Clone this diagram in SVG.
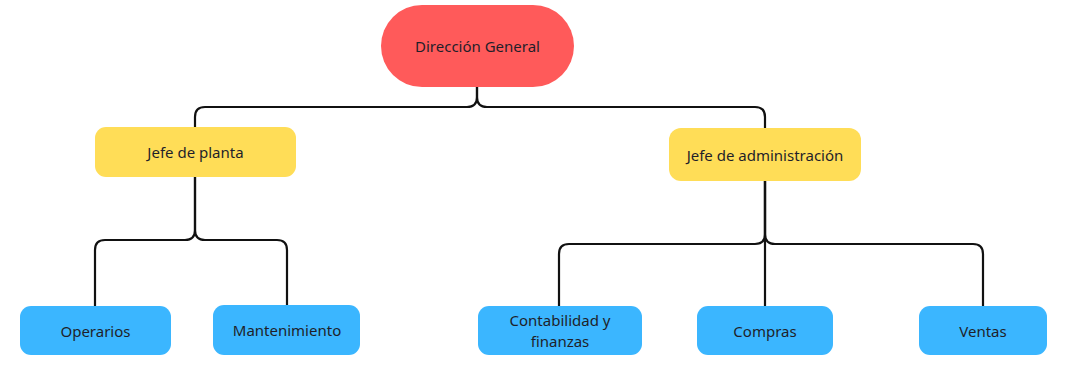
<svg xmlns="http://www.w3.org/2000/svg" width="1071" height="389" viewBox="0 0 1071 389">
<style>
.c{fill:none;stroke:#111;stroke-width:2.2;stroke-linecap:round}
.t{font-family:"Noto Sans","Open Sans",sans-serif;font-size:15px;fill:#1f1f2a;text-anchor:middle;dominant-baseline:central}
.red{fill:#FF5A5A}
.yel{fill:#FFDD57}
.blu{fill:#3BB6FF}
</style>
<rect width="1071" height="389" fill="#fff"/>
<g id="connectors">
<path class="c" d="M477,87 V97 Q477,107 467,107 H205 Q195,107 195,117 V127"/>
<path class="c" d="M477,87 V97 Q477,107 487,107 H755 Q765,107 765,117 V128"/>
<path class="c" d="M195,177 V230 Q195,240 185,240 H105 Q95,240 95,250 V306"/>
<path class="c" d="M195,177 V230 Q195,240 205,240 H277 Q287,240 287,250 V305"/>
<path class="c" d="M765,181 V234 Q765,244 755,244 H569 Q559,244 559,254 V306"/>
<path class="c" d="M765,181 V306"/>
<path class="c" d="M765,181 V234 Q765,244 775,244 H973 Q983,244 983,254 V306"/>
</g>
<g id="n-direccion"><rect class="red" x="381" y="5" width="193" height="82" rx="41"/><text class="t" x="477.5" y="46">Dirección General</text></g>
<g id="n-planta"><rect class="yel" x="95" y="127" width="201" height="50" rx="11"/><text class="t" x="195.5" y="152">Jefe de planta</text></g>
<g id="n-admin"><rect class="yel" x="669" y="128" width="192" height="53" rx="12"/><text class="t" x="765" y="154.5">Jefe de administración</text></g>
<g id="n-operarios"><rect class="blu" x="20" y="306" width="151" height="49" rx="11"/><text class="t" x="95.5" y="330.5">Operarios</text></g>
<g id="n-mant"><rect class="blu" x="213" y="305" width="147" height="50" rx="11"/><text class="t" x="287" y="330">Mantenimiento</text></g>
<g id="n-conta"><rect class="blu" x="478" y="306" width="164" height="49" rx="11"/><text class="t" x="560" y="320">Contabilidad y</text><text class="t" x="560" y="341">finanzas</text></g>
<g id="n-compras"><rect class="blu" x="697" y="306" width="136" height="49" rx="11"/><text class="t" x="765" y="330.5">Compras</text></g>
<g id="n-ventas"><rect class="blu" x="919" y="306" width="128" height="49" rx="11"/><text class="t" x="983" y="330.5">Ventas</text></g>
</svg>
